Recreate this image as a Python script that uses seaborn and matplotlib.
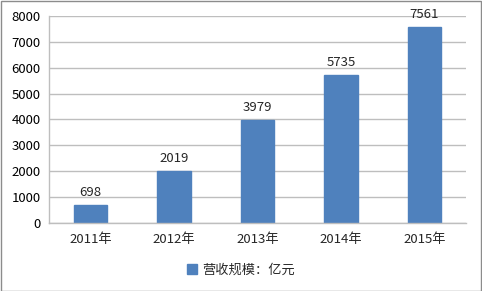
import matplotlib
matplotlib.use("Agg")
import matplotlib.pyplot as plt
import seaborn as sns
import pandas as pd
from matplotlib.patches import Rectangle

years = ["2011年", "2012年", "2013年", "2014年", "2015年"]
revenue = [698, 2019, 3979, 5735, 7561]
series_name = "营收规模：亿元"

sns.set_theme(style="white")
plt.rcParams['font.family'] = ['Noto Sans CJK SC', 'DejaVu Sans']

df = pd.DataFrame({"year": years, "value": revenue})

fig = plt.figure(figsize=(4.82, 2.91), dpi=100)
ax = fig.add_axes([49/482, 1-223/291, (466-49)/482, (223-16)/291])

color = "#4F81BD"
sns.barplot(data=df, x="year", y="value", color=color, width=0.4, ax=ax,
            saturation=1, edgecolor=color)

ax.set_ylim(0, 8000)
ax.set_xlim(-0.5, 4.5)
ax.set_yticks(range(0, 8001, 1000))
ax.yaxis.grid(True, color="#BEBEBE", linewidth=1)
ax.set_axisbelow(True)
ax.set_xlabel("")
ax.set_ylabel("")
for s in ["top", "right"]:
    ax.spines[s].set_visible(False)
for s in ["left", "bottom"]:
    ax.spines[s].set_color("#BEBEBE")
    ax.spines[s].set_linewidth(1)

fs = 9.5
ax.tick_params(axis="y", labelsize=fs, length=0, pad=6, colors="#000000")
ax.tick_params(axis="x", which="major", labelsize=fs, length=0, pad=7)
ax.set_xticks([i - 0.5 for i in range(6)], minor=True)
ax.tick_params(axis="x", which="minor", length=4, color="#BEBEBE", width=1)

for i, v in enumerate(revenue):
    ax.text(i, v + 230, str(v), ha="center", va="bottom", fontsize=fs)

handle = Rectangle((0, 0), 1, 1, facecolor=color, edgecolor=color)
fig.legend([handle], [series_name], loc="center", bbox_to_anchor=(0.5, 1-270/291),
           frameon=False, fontsize=fs, handlelength=0.7, handleheight=0.7,
           handletextpad=0.4)

fig.patches.append(Rectangle((0.5/482, 0.5/291), 1-1.5/482, 1-1.5/291,
                             transform=fig.transFigure, fill=False,
                             edgecolor="#8C8C8C", linewidth=1))

fig.savefig("out.png", dpi=100)
